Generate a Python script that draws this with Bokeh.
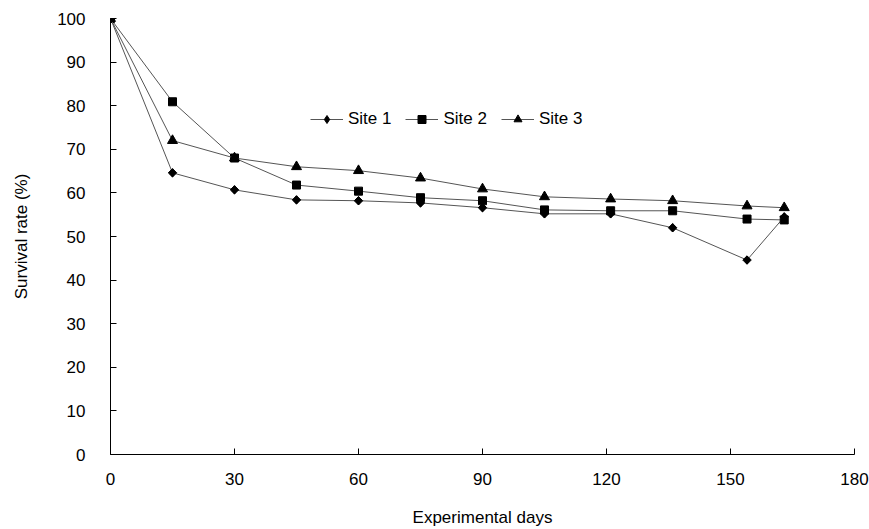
import numpy as np
from bokeh.plotting import figure
from bokeh.models import Range1d, FixedTicker, Legend, LegendItem
from bokeh.embed import file_html
from bokeh.resources import INLINE

days = [0, 15, 30, 45, 60, 75, 90, 105, 121, 136, 154, 163]
site1 = [100, 64.6, 60.7, 58.4, 58.2, 57.7, 56.6, 55.2, 55.2, 52.0, 44.6, 54.5]
site2 = [100, 80.9, 68.0, 61.8, 60.4, 58.9, 58.2, 56.1, 55.9, 55.9, 54.0, 53.8]
site3 = [100, 72.0, 68.0, 66.0, 65.1, 63.4, 60.9, 59.1, 58.6, 58.2, 57.0, 56.6]
series_names = ["Site 1", "Site 2", "Site 3"]
x_ticks = [0, 30, 60, 90, 120, 150, 180]
y_ticks = [0, 10, 20, 30, 40, 50, 60, 70, 80, 90, 100]

FONT = "Liberation Sans"

p = figure(width=869, height=529, output_backend="svg", toolbar_location=None,
           x_range=Range1d(0, 180), y_range=Range1d(0, 100),
           min_border_left=110, min_border_right=15, min_border_top=18, min_border_bottom=75)
p.outline_line_color = None
p.grid.visible = False
p.background_fill_color = "white"

line_color = "#555555"
items = []
markers = [("square", 6, np.pi / 4, "diamond"), ("square", 8, 0.0, None),
           ("triangle", 10, 0.0, None)]
for name, ys, (mk, sz, ang, legmk) in zip(series_names, [site1, site2, site3], markers):
    r1 = p.line(days, ys, line_color=line_color, line_width=1)
    leg_r = None
    if legmk is not None:
        # narrow diamond drawn beneath the rotated square; used for the legend glyph
        leg_r = p.scatter(days, ys, marker=legmk, size=8, fill_color="black", line_color="black")
    r2 = p.scatter(days, ys, marker=mk, size=sz, angle=ang, fill_color="black", line_color="black")
    items.append(LegendItem(label=name, renderers=[r1, leg_r if leg_r is not None else r2]))

legend = Legend(items=items, orientation="horizontal", location=(200, 325),
                glyph_width=33, glyph_height=20, label_standoff=5, spacing=14,
                padding=0, margin=0, border_line_color=None, background_fill_alpha=0,
                label_text_font=FONT, label_text_font_size="17px", label_text_color="black")
p.add_layout(legend, "center")

for ax in (p.xaxis[0], p.yaxis[0]):
    ax.axis_line_color = "black"
    ax.axis_line_width = 1
    ax.major_tick_line_color = "black"
    ax.major_tick_in = 6
    ax.major_tick_out = 0
    ax.minor_tick_line_color = None
    ax.major_label_text_font = FONT
    ax.major_label_text_font_size = "17px"
    ax.major_label_text_color = "black"
    ax.axis_label_text_font = FONT
    ax.axis_label_text_font_size = "17px"
    ax.axis_label_text_font_style = "normal"
    ax.axis_label_text_color = "black"

p.xaxis[0].ticker = FixedTicker(ticks=x_ticks)
p.yaxis[0].ticker = FixedTicker(ticks=y_ticks)
p.xaxis[0].axis_label = "Experimental days"
p.yaxis[0].axis_label = "Survival rate (%)"
p.xaxis[0].major_label_standoff = 18
p.xaxis[0].axis_label_standoff = 20
p.yaxis[0].major_label_standoff = 25
p.yaxis[0].axis_label_standoff = 23

open("out.html", "w").write(file_html(p, INLINE))
